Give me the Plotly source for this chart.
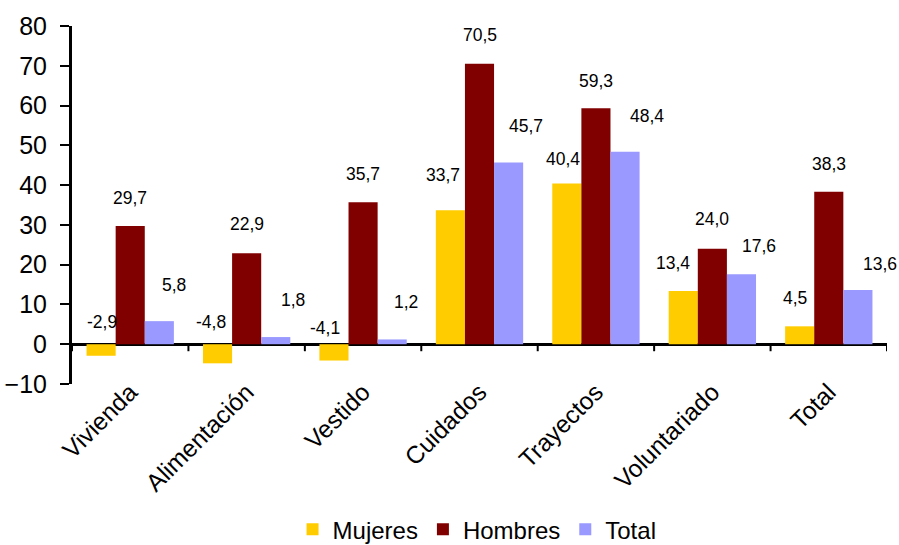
import plotly.graph_objects as go

# Variación porcentual por categoría y sexo
categories = ["Vivienda", "Alimentación", "Vestido", "Cuidados", "Trayectos", "Voluntariado", "Total"]
mujeres = [-2.9, -4.8, -4.1, 33.7, 40.4, 13.4, 4.5]
hombres = [29.7, 22.9, 35.7, 70.5, 59.3, 24.0, 38.3]
total = [5.8, 1.8, 1.2, 45.7, 48.4, 17.6, 13.6]

series_names = ["Mujeres", "Hombres", "Total"]
series_values = [mujeres, hombres, total]
series_colors = ["#FFCC00", "#800000", "#9999FF"]

# Ajuste manual (px) de cada etiqueta respecto al extremo de su barra: (dx, dy)
label_nudges = [
    [(1, 22), (-7, 22), (-9, 16), (-7, 35), (-4, 25), (-10, 28), (-5, 28)],
    [(0, 28), (0, 29), (0, 28), (0, 29), (0, 27), (0, 30), (0, 28)],
    [(15, 36), (17, 37), (14, 37), (17, 36), (22, 36), (18, 28), (22, 26)],
]

FONT = "Liberation Sans, Arial, sans-serif"
BARGAP = 0.25

fig = go.Figure()
for name, vals, color in zip(series_names, series_values, series_colors):
    fig.add_trace(go.Bar(
        name=name, x=categories, y=vals,
        marker=dict(color=color, line=dict(width=0)),
    ))

# Etiquetas de valor, con coma decimal
bar_w = (1 - BARGAP) / len(series_values)
annotations = []
for k, vals in enumerate(series_values):
    for i, v in enumerate(vals):
        dx, dy = label_nudges[k][i]
        annotations.append(dict(
            x=i + (k - 1) * bar_w, y=max(v, 0), xref="x", yref="y",
            text=f"{v:.1f}".replace(".", ","), showarrow=False,
            xshift=dx, yshift=dy, yanchor="middle", xanchor="center",
            font=dict(family=FONT, size=17.5, color="#000000"),
        ))

# Marcas entre categorías sobre el eje en cero
shapes = []
for i in range(len(categories) + 1):
    shapes.append(dict(
        type="line", xref="x", yref="y", x0=i - 0.5, x1=i - 0.5,
        ysizemode="pixel", yanchor=0, y0=0, y1=-7,
        line=dict(color="#000000", width=2),
    ))

fig.update_layout(
    width=899, height=545,
    margin=dict(l=72, r=12, t=26, b=161, autoexpand=False),
    paper_bgcolor="#FFFFFF", plot_bgcolor="#FFFFFF",
    barmode="group", bargap=BARGAP, bargroupgap=0,
    font=dict(family=FONT, color="#000000"),
    annotations=annotations, shapes=shapes,
    showlegend=True,
    legend=dict(
        orientation="h", x=0.497, xanchor="center", y=-0.407, yanchor="middle",
        font=dict(family=FONT, size=24, color="#000000"),
        itemclick=False, itemdoubleclick=False,
    ),
)

fig.update_xaxes(
    type="category", range=[-0.5, len(categories) - 0.5],
    showline=False, ticks="", tickangle=-45, automargin=False,
    ticklabelstandoff=-12,
    tickfont=dict(family=FONT, size=24.5, color="#000000"),
    showgrid=False, zeroline=False,
)
fig.update_yaxes(
    range=[-10, 80], dtick=10, tick0=0, automargin=False,
    showline=True, linecolor="#000000", linewidth=3,
    ticks="outside", ticklen=9, tickwidth=2, tickcolor="#000000",
    ticklabelstandoff=8,
    tickfont=dict(family=FONT, size=25, color="#000000"),
    showgrid=False, zeroline=True, zerolinecolor="#000000", zerolinewidth=3,
)

fig.write_html("out.html")
